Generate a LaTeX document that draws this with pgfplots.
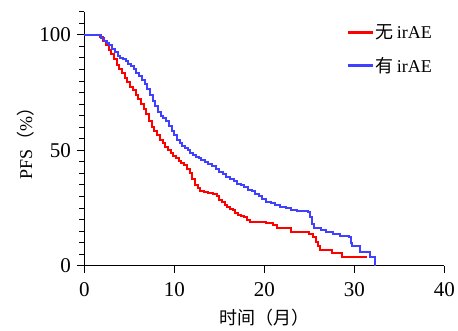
\documentclass[border=0pt]{standalone}
\usepackage{pgfplots}
\pgfplotsset{compat=1.18}
\usepackage{fontspec}
\setmainfont{Liberation Serif}
\newfontfamily\cjk{Noto Sans CJK SC}
\definecolor{kmblue}{RGB}{64,64,255}
\begin{document}
\begin{tikzpicture}
\path[use as bounding box] (-84.3pt,-64.3pt) rectangle (373.7pt,265.7pt);
\begin{axis}[
  scale only axis,
  width=360pt, height=254pt,
  xmin=0, xmax=40, ymin=0, ymax=110,
  axis lines*=left,
  axis line style={black, line width=0.9pt, -},
  tick style={black, line width=0.8pt},
  tick align=outside,
  major tick length=7pt,
  minor tick length=5pt,
  xtick={0,10,20,30,40},
  ytick={0,50,100},
  minor ytick={5,10,...,110},
  tick label style={font=\fontsize{21pt}{24pt}\selectfont},
  label style={font=\fontsize{18pt}{21pt}\selectfont},
  /pgf/number format/assume math mode=true,
  xlabel={\cjk 时间（月）},
  ylabel={PFS\cjk （\rmfamily\%\cjk ）},
  xlabel style={at={(axis description cs:0.5,0)}, anchor=center, yshift=-52pt},
  ylabel style={at={(axis description cs:-0.164,0.5)}, anchor=center},
  xticklabel style={yshift=-6pt},
  yticklabel style={xshift=-3pt},
  legend style={draw=none, fill=none, at={(0.98,0.965)}, anchor=north east,
    font=\fontsize{18pt}{21pt}\selectfont, row sep=13pt, cells={anchor=west}},
  legend image code/.code={\draw[#1, line width=2.2pt] (0pt,0pt) -- (25pt,0pt);},
  clip=false,
]
\addplot[const plot, red, line width=2pt] coordinates {
(0,100) (1.5,100) (1.8,99) (2.1,97.5) (2.4,95.5) (2.7,93.5) (3.0,91.5) (3.3,89.5)
(3.6,87) (3.9,85) (4.2,83.5) (4.5,81.5) (4.8,79.5) (5.1,77.5) (5.4,76) (5.7,74)
(6.0,72) (6.3,70) (6.6,68) (6.9,65.5) (7.2,62.5) (7.5,60) (7.8,58.5) (8.1,56.5)
(8.4,54.5) (8.7,53) (9.0,51.5) (9.3,50) (9.6,49) (9.9,47.5) (10.2,46.5) (10.5,45.5)
(10.8,44.5) (11.1,43.5) (11.4,42) (11.7,40) (12.0,37.5) (12.3,35) (12.6,33.5)
(12.9,32.5) (13.3,32) (13.8,31.5) (14.3,31) (14.7,30) (15.0,28.5) (15.3,27.5)
(15.6,26.5) (15.9,25.5) (16.2,24.5) (16.5,24) (16.8,23) (17.1,22) (17.4,21.5)
(17.8,21) (18.1,20) (18.4,19) (19.5,18.8) (20.2,18.3) (21.0,17.6) (21.4,16.2)
(23.0,14.8) (25.0,13.8) (25.4,12.6) (25.8,10.4) (26.0,8.5) (26.2,6.8)
(27.5,5.4) (28.6,3.9) (31.4,3.9)
};
\addlegendentry{\cjk 无\rmfamily\,irAE}
\addplot[const plot, kmblue, line width=2pt] coordinates {
(0,100) (1.6,100) (1.9,98.5) (2.2,97.5) (2.5,96.5) (2.8,95.5) (3.1,94) (3.4,92.5)
(3.7,91) (4.0,90) (4.3,89.5) (4.6,88.5) (4.9,87.5) (5.2,86.5) (5.5,85) (5.8,83.5)
(6.1,82) (6.4,80.5) (6.7,78.5) (7.0,76.5) (7.3,74) (7.6,71.5) (7.9,69) (8.2,66.5)
(8.5,65) (8.8,64) (9.1,62.5) (9.4,60.5) (9.7,58.5) (10.0,56.5) (10.3,54.5)
(10.6,53) (10.9,52) (11.2,51) (11.5,50) (11.8,49) (12.1,48) (12.4,47) (12.7,46.5)
(13.0,45.8) (13.4,45) (13.8,44.2) (14.2,43) (14.6,41.8) (15.0,40.5) (15.4,39.5)
(15.8,38.5) (16.2,37.5) (16.6,36.5) (17.0,35.5) (17.4,34.8) (17.8,34) (18.2,33)
(18.6,32.2) (19.0,31) (19.4,30) (19.8,28.8) (20.2,27.8) (20.7,27.3) (21.2,26.4)
(21.8,25.6) (22.4,25) (23.0,24.3) (23.6,23.5) (24.9,23.2) (25.1,21) (25.3,18)
(25.5,16.2) (26.3,15.5) (26.9,14.7) (27.6,13.8) (28.4,12.8) (29.4,12.5)
(29.6,10) (29.8,8.5) (30.6,6) (31.7,3.9) (32.3,0) (32.3,0)
};
\addlegendentry{\cjk 有\rmfamily\,irAE}
\end{axis}
\end{tikzpicture}
\end{document}
